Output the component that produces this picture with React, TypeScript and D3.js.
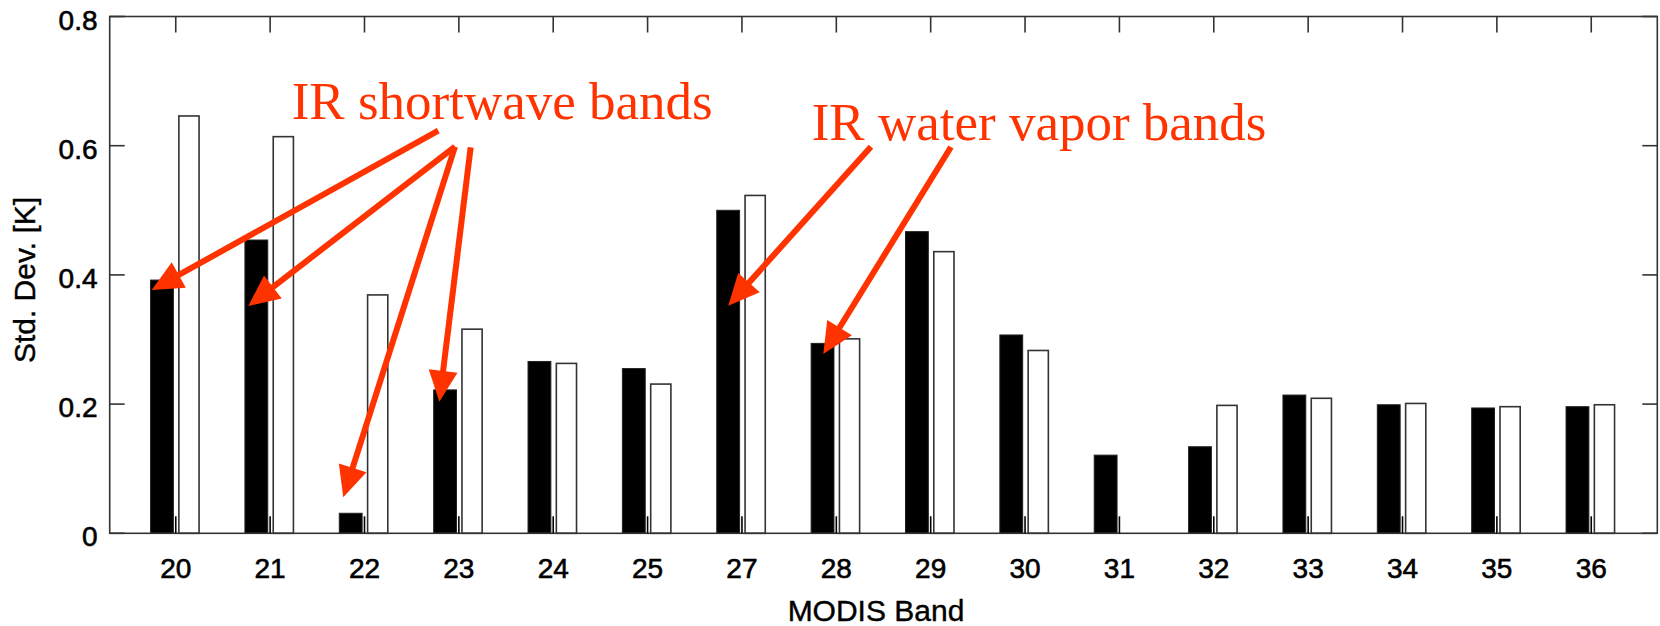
import React from "react";
import * as d3 from "d3";

const bands = ["20", "21", "22", "23", "24", "25", "27", "28", "29", "30", "31", "32", "33", "34", "35", "36"];
const seriesBlack = [0.392, 0.454, 0.031, 0.222, 0.266, 0.255, 0.5, 0.294, 0.467, 0.307, 0.121, 0.134, 0.214, 0.199, 0.194, 0.196];
const seriesWhite: (number | null)[] = [0.646, 0.614, 0.369, 0.316, 0.263, 0.231, 0.523, 0.301, 0.436, 0.283, null, 0.198, 0.209, 0.201, 0.196, 0.199];
const yTicks = [0, 0.2, 0.4, 0.6, 0.8];
const yTickLabels = ["0", "0.2", "0.4", "0.6", "0.8"];

// annotations in data coordinates (band index, value)
const annotationTexts = [
  { text: "IR shortwave bands", i: 1.229, v: 0.641 },
  { text: "IR water vapor bands", i: 6.739, v: 0.6088 },
];
const arrows = [
  { from: [2.782, 0.6232], to: [-0.255, 0.3766] },
  { from: [2.959, 0.5985], to: [0.769, 0.3519] },
  { from: [2.959, 0.5985], to: [1.775, 0.0557] },
  { from: [3.125, 0.5975], to: [2.793, 0.2037] },
  { from: [7.367, 0.5985], to: [5.855, 0.3523] },
  { from: [8.215, 0.598], to: [6.862, 0.2776] },
];

const W = 1660;
const H = 626;
const left = 109.7;
const right = 1657.3;
const top = 16.5;
const bottom = 533.3;
const RED = "#ff3300";
const FRAME = "#333";
const SANS = "'Liberation Sans', Arial, Helvetica, sans-serif";

export default function App() {
  const x = d3.scaleLinear().domain([-0.7, bands.length - 0.3]).range([left, right]);
  const y = d3.scaleLinear().domain([0, 0.8]).range([bottom, top]);
  const step = x(1) - x(0);
  const headLen = 31;
  const headHalf = 14.5;

  return (
    <svg
      width={W}
      height={H}
      style={{ position: "absolute", left: 0, top: 0, display: "block", background: "#fff" }}
    >
      {/* bars */}
      {bands.map((b, i) => {
        const vb = seriesBlack[i];
        const vw = seriesWhite[i];
        return (
          <g key={b}>
            <rect
              x={x(i) - 0.267 * step}
              y={y(vb)}
              width={0.242 * step}
              height={y(0) - y(vb)}
              fill="#000"
              stroke="#222"
              strokeWidth={1}
            />
            {vw !== null && (
              <rect
                x={x(i) + 0.033 * step}
                y={y(vw)}
                width={0.214 * step}
                height={y(0) - y(vw)}
                fill="#fff"
                stroke={FRAME}
                strokeWidth={1.6}
              />
            )}
          </g>
        );
      })}

      {/* frame */}
      <rect x={left} y={top} width={right - left} height={bottom - top} fill="none" stroke={FRAME} strokeWidth={1.6} />

      {/* x ticks */}
      {bands.map((b, i) => (
        <g key={"xt" + b}>
          <line x1={x(i)} x2={x(i)} y1={top} y2={top + 16} stroke={FRAME} strokeWidth={1.6} />
          <line x1={x(i)} x2={x(i)} y1={bottom} y2={bottom - 17} stroke="#000" strokeWidth={1.6} />
          <text
            x={x(i)}
            y={578}
            textAnchor="middle"
            fontFamily={SANS}
            fontSize={28}
            fill="#000"
            stroke="#000"
            strokeWidth={0.6}
          >
            {b}
          </text>
        </g>
      ))}

      {/* y ticks */}
      {yTicks.map((t, k) => (
        <g key={"yt" + t}>
          <line x1={left} x2={left + 15} y1={y(t)} y2={y(t)} stroke={FRAME} strokeWidth={1.6} />
          <line x1={right} x2={right - 15} y1={y(t)} y2={y(t)} stroke={FRAME} strokeWidth={1.6} />
          <text
            x={97.5}
            y={y(t) + 13}
            textAnchor="end"
            fontFamily={SANS}
            fontSize={28}
            fill="#000"
            stroke="#000"
            strokeWidth={0.6}
          >
            {yTickLabels[k]}
          </text>
        </g>
      ))}

      {/* axis labels */}
      <text x={876} y={621} textAnchor="middle" fontFamily={SANS} fontSize={30} fill="#000" stroke="#000" strokeWidth={0.4}>
        MODIS Band
      </text>
      <text
        transform={`translate(35,${280}) rotate(-90)`}
        textAnchor="middle"
        fontFamily={SANS}
        fontSize={30}
        fill="#000"
        stroke="#000"
        strokeWidth={0.4}
      >
        Std. Dev. [K]
      </text>

      {/* annotations */}
      {annotationTexts.map((a) => (
        <text
          key={a.text}
          x={x(a.i)}
          y={y(a.v)}
          fontFamily="'Liberation Serif', 'Times New Roman', serif"
          fontSize={53}
          fill={RED}
        >
          {a.text}
        </text>
      ))}
      {arrows.map((a, k) => {
        const x1 = x(a.from[0]);
        const y1 = y(a.from[1]);
        const x2 = x(a.to[0]);
        const y2 = y(a.to[1]);
        const dx = x2 - x1;
        const dy = y2 - y1;
        const len = Math.hypot(dx, dy);
        const ux = dx / len;
        const uy = dy / len;
        const bx = x2 - ux * headLen;
        const by = y2 - uy * headLen;
        const px = -uy;
        const py = ux;
        const pts = [
          [x2, y2],
          [bx + px * headHalf, by + py * headHalf],
          [bx - px * headHalf, by - py * headHalf],
        ];
        return (
          <g key={"ar" + k}>
            <line x1={x1} y1={y1} x2={bx + ux * 2} y2={by + uy * 2} stroke={RED} strokeWidth={6} />
            <polygon points={pts.map((p) => p.join(",")).join(" ")} fill={RED} />
          </g>
        );
      })}
    </svg>
  );
}
